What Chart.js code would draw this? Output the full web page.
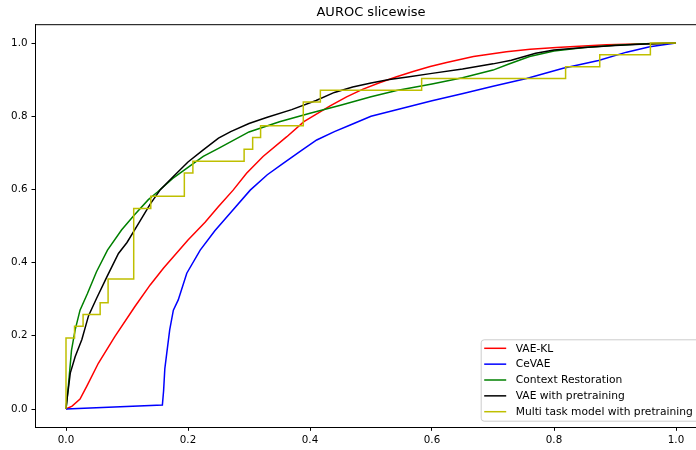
<!DOCTYPE html>
<html>
<head>
<meta charset="utf-8">
<script src="https://cdn.jsdelivr.net/npm/chart.js@4/dist/chart.umd.min.js"></script>
<style>
html,body{margin:0;padding:0;background:#fff;overflow:hidden;width:696px;height:450px;}
canvas{display:block;}
</style>
</head>
<body>
<canvas id="c" width="742" height="450"></canvas>
<script>
// ---- data ----
const titleText = "AUROC slicewise";
const seriesNames = ["VAE-KL", "CeVAE", "Context Restoration", "VAE with pretraining", "Multi task model with pretraining"];
const seriesColors = ["#ff0000", "#0000ff", "#008000", "#000000", "#bfbf00"];
const xTicks = [0.0, 0.2, 0.4, 0.6, 0.8, 1.0];
const yTicks = [0.0, 0.2, 0.4, 0.6, 0.8, 1.0];

const vaeKlFpr = [0, 0.01, 0.023, 0.035, 0.053, 0.08, 0.113, 0.138, 0.16, 0.2, 0.228, 0.25, 0.274, 0.296, 0.323, 0.362, 0.39, 0.405, 0.433, 0.46, 0.487, 0.515, 0.542, 0.569, 0.597, 0.624, 0.668, 0.722, 0.761, 0.804, 0.886, 0.95, 1.0];
const vaeKlTpr = [0, 0.008, 0.027, 0.065, 0.125, 0.198, 0.28, 0.339, 0.385, 0.462, 0.51, 0.553, 0.598, 0.644, 0.69, 0.744, 0.785, 0.8, 0.828, 0.853, 0.874, 0.892, 0.908, 0.922, 0.936, 0.947, 0.963, 0.976, 0.983, 0.988, 0.995, 0.998, 1.0];

const ceVaeFpr = [0, 0.158, 0.16, 0.162, 0.165, 0.17, 0.176, 0.184, 0.198, 0.22, 0.244, 0.269, 0.302, 0.33, 0.356, 0.385, 0.411, 0.44, 0.466, 0.5, 0.55, 0.6, 0.651, 0.7, 0.755, 0.815, 0.873, 0.919, 0.957, 1.0];
const ceVaeTpr = [0, 0.011, 0.05, 0.11, 0.15, 0.216, 0.27, 0.298, 0.371, 0.434, 0.487, 0.535, 0.598, 0.64, 0.671, 0.705, 0.735, 0.758, 0.776, 0.8, 0.821, 0.842, 0.862, 0.882, 0.903, 0.931, 0.952, 0.975, 0.99, 1.0];

const ctxFpr = [0, 0.004, 0.009, 0.015, 0.023, 0.035, 0.05, 0.068, 0.091, 0.112, 0.135, 0.15, 0.175, 0.2, 0.225, 0.25, 0.3, 0.35, 0.4, 0.45, 0.5, 0.542, 0.6, 0.65, 0.7, 0.725, 0.76, 0.8, 0.85, 0.9, 0.95, 1.0];
const ctxTpr = [0, 0.065, 0.16, 0.216, 0.27, 0.315, 0.375, 0.434, 0.489, 0.53, 0.572, 0.593, 0.63, 0.66, 0.69, 0.712, 0.757, 0.785, 0.808, 0.83, 0.853, 0.87, 0.888, 0.905, 0.926, 0.942, 0.963, 0.978, 0.988, 0.994, 0.998, 1.0];

const vaePreFpr = [0, 0.002, 0.007, 0.015, 0.026, 0.037, 0.05, 0.067, 0.086, 0.1, 0.12, 0.138, 0.155, 0.176, 0.2, 0.225, 0.25, 0.27, 0.3, 0.33, 0.37, 0.41, 0.44, 0.47, 0.5, 0.53, 0.56, 0.6, 0.65, 0.7, 0.73, 0.77, 0.8, 0.85, 0.9, 0.95, 1.0];
const vaePreTpr = [0, 0.03, 0.098, 0.143, 0.19, 0.255, 0.302, 0.361, 0.425, 0.455, 0.51, 0.56, 0.6, 0.635, 0.675, 0.708, 0.74, 0.758, 0.78, 0.797, 0.818, 0.843, 0.865, 0.88, 0.891, 0.9, 0.907, 0.917, 0.929, 0.943, 0.953, 0.972, 0.981, 0.988, 0.993, 0.997, 1.0];

const multiFpr = [0, 0, 0.014, 0.014, 0.028, 0.028, 0.056, 0.056, 0.069, 0.069, 0.111, 0.111, 0.139, 0.139, 0.194, 0.194, 0.208, 0.208, 0.292, 0.292, 0.306, 0.306, 0.319, 0.319, 0.389, 0.389, 0.417, 0.417, 0.583, 0.583, 0.819, 0.819, 0.875, 0.875, 0.958, 0.958, 1.0];
const multiTpr = [0, 0.194, 0.194, 0.226, 0.226, 0.258, 0.258, 0.29, 0.29, 0.355, 0.355, 0.548, 0.548, 0.581, 0.581, 0.645, 0.645, 0.677, 0.677, 0.71, 0.71, 0.742, 0.742, 0.774, 0.774, 0.839, 0.839, 0.871, 0.871, 0.903, 0.903, 0.935, 0.935, 0.968, 0.968, 1.0, 1.0];

const allFpr = [vaeKlFpr, ceVaeFpr, ctxFpr, vaePreFpr, multiFpr];
const allTpr = [vaeKlTpr, ceVaeTpr, ctxTpr, vaePreTpr, multiTpr];

// ---- chart ----
const FONT = "'DejaVu Sans', 'Liberation Sans', sans-serif";
const datasets = seriesNames.map((name, i) => ({
  label: name,
  data: allFpr[i].map((x, k) => ({x: x, y: allTpr[i][k]})),
  borderColor: seriesColors[i],
  backgroundColor: seriesColors[i],
  borderWidth: 1.5,
  pointRadius: 0,
  showLine: true,
  fill: false,
  tension: 0,
  order: seriesNames.length - i
}));

const boxPlugin = {
  id: 'boxPlugin',
  afterDatasetsDraw(chart) {
    const ctx = chart.ctx, a = chart.chartArea;
    ctx.save();
    ctx.strokeStyle = '#000';
    ctx.lineWidth = 1;
    ctx.beginPath();
    ctx.moveTo(a.left, a.top);
    ctx.lineTo(a.right, a.top);
    ctx.stroke();
    ctx.restore();
  }
};

const legendPlugin = {
  id: 'mplLegend',
  afterDraw(chart) {
    const ctx = chart.ctx, a = chart.chartArea;
    const left = a.right - 225.8, right = a.right - 5;
    const bottom = a.bottom - 6.6, top = bottom - 81.4;
    ctx.save();
    ctx.beginPath();
    if (ctx.roundRect) ctx.roundRect(left + 0.5, top + 0.5, right - left, bottom - top, 3);
    else ctx.rect(left + 0.5, top + 0.5, right - left, bottom - top);
    ctx.fillStyle = 'rgba(255,255,255,0.8)';
    ctx.fill();
    ctx.strokeStyle = '#cccccc';
    ctx.lineWidth = 1;
    ctx.stroke();
    ctx.font = '10.7px ' + FONT;
    ctx.textBaseline = 'middle';
    ctx.textAlign = 'left';
    seriesNames.forEach((name, i) => {
      const y = top + 9 + i * 15.85;
      ctx.strokeStyle = seriesColors[i];
      ctx.lineWidth = 1.5;
      ctx.beginPath();
      ctx.moveTo(left + 3.5, y);
      ctx.lineTo(left + 25.5, y);
      ctx.stroke();
      ctx.fillStyle = '#000';
      ctx.fillText(name, left + 35, y + 0.5);
    });
    ctx.restore();
  }
};

new Chart(document.getElementById('c'), {
  type: 'scatter',
  data: { datasets: datasets },
  options: {
    responsive: false,
    animation: false,
    devicePixelRatio: 1,
    layout: { padding: { left: 0, right: 35.5, top: 0, bottom: 0 } },
    plugins: {
      legend: { display: false },
      tooltip: { enabled: false },
      title: {
        display: true,
        fullSize: false,
        text: titleText,
        color: '#000',
        font: { family: FONT, size: 13, weight: 'normal', lineHeight: 1.2 },
        padding: { top: 4.5, bottom: 4.6 }
      }
    },
    scales: {
      x: {
        type: 'linear',
        min: -0.05, max: 1.05,
        afterFit: (s) => { s.height = 22.7; },
        afterBuildTicks: (s) => { s.ticks = xTicks.map(v => ({value: v})); },
        grid: { display: true, drawOnChartArea: false, drawTicks: true, tickLength: 3.5, color: '#000', lineWidth: 1 },
        border: { display: true, color: '#000', width: 1 },
        ticks: {
          color: '#000', padding: 3, maxRotation: 0, autoSkip: false,
          font: { family: FONT, size: 10.3 },
          callback: (v) => Number(v).toFixed(1)
        }
      },
      y: {
        type: 'linear',
        min: -0.05, max: 1.05,
        afterFit: (s) => { s.width = 35.5; },
        afterBuildTicks: (s) => { s.ticks = yTicks.map(v => ({value: v})); },
        grid: { display: true, drawOnChartArea: false, drawTicks: true, tickLength: 4, color: '#000', lineWidth: 1 },
        border: { display: true, color: '#000', width: 1 },
        ticks: {
          color: '#000', padding: 4, autoSkip: false,
          font: { family: FONT, size: 10.3 },
          callback: (v) => Number(v).toFixed(1)
        }
      }
    }
  },
  plugins: [boxPlugin, legendPlugin]
});
</script>
</body>
</html>
